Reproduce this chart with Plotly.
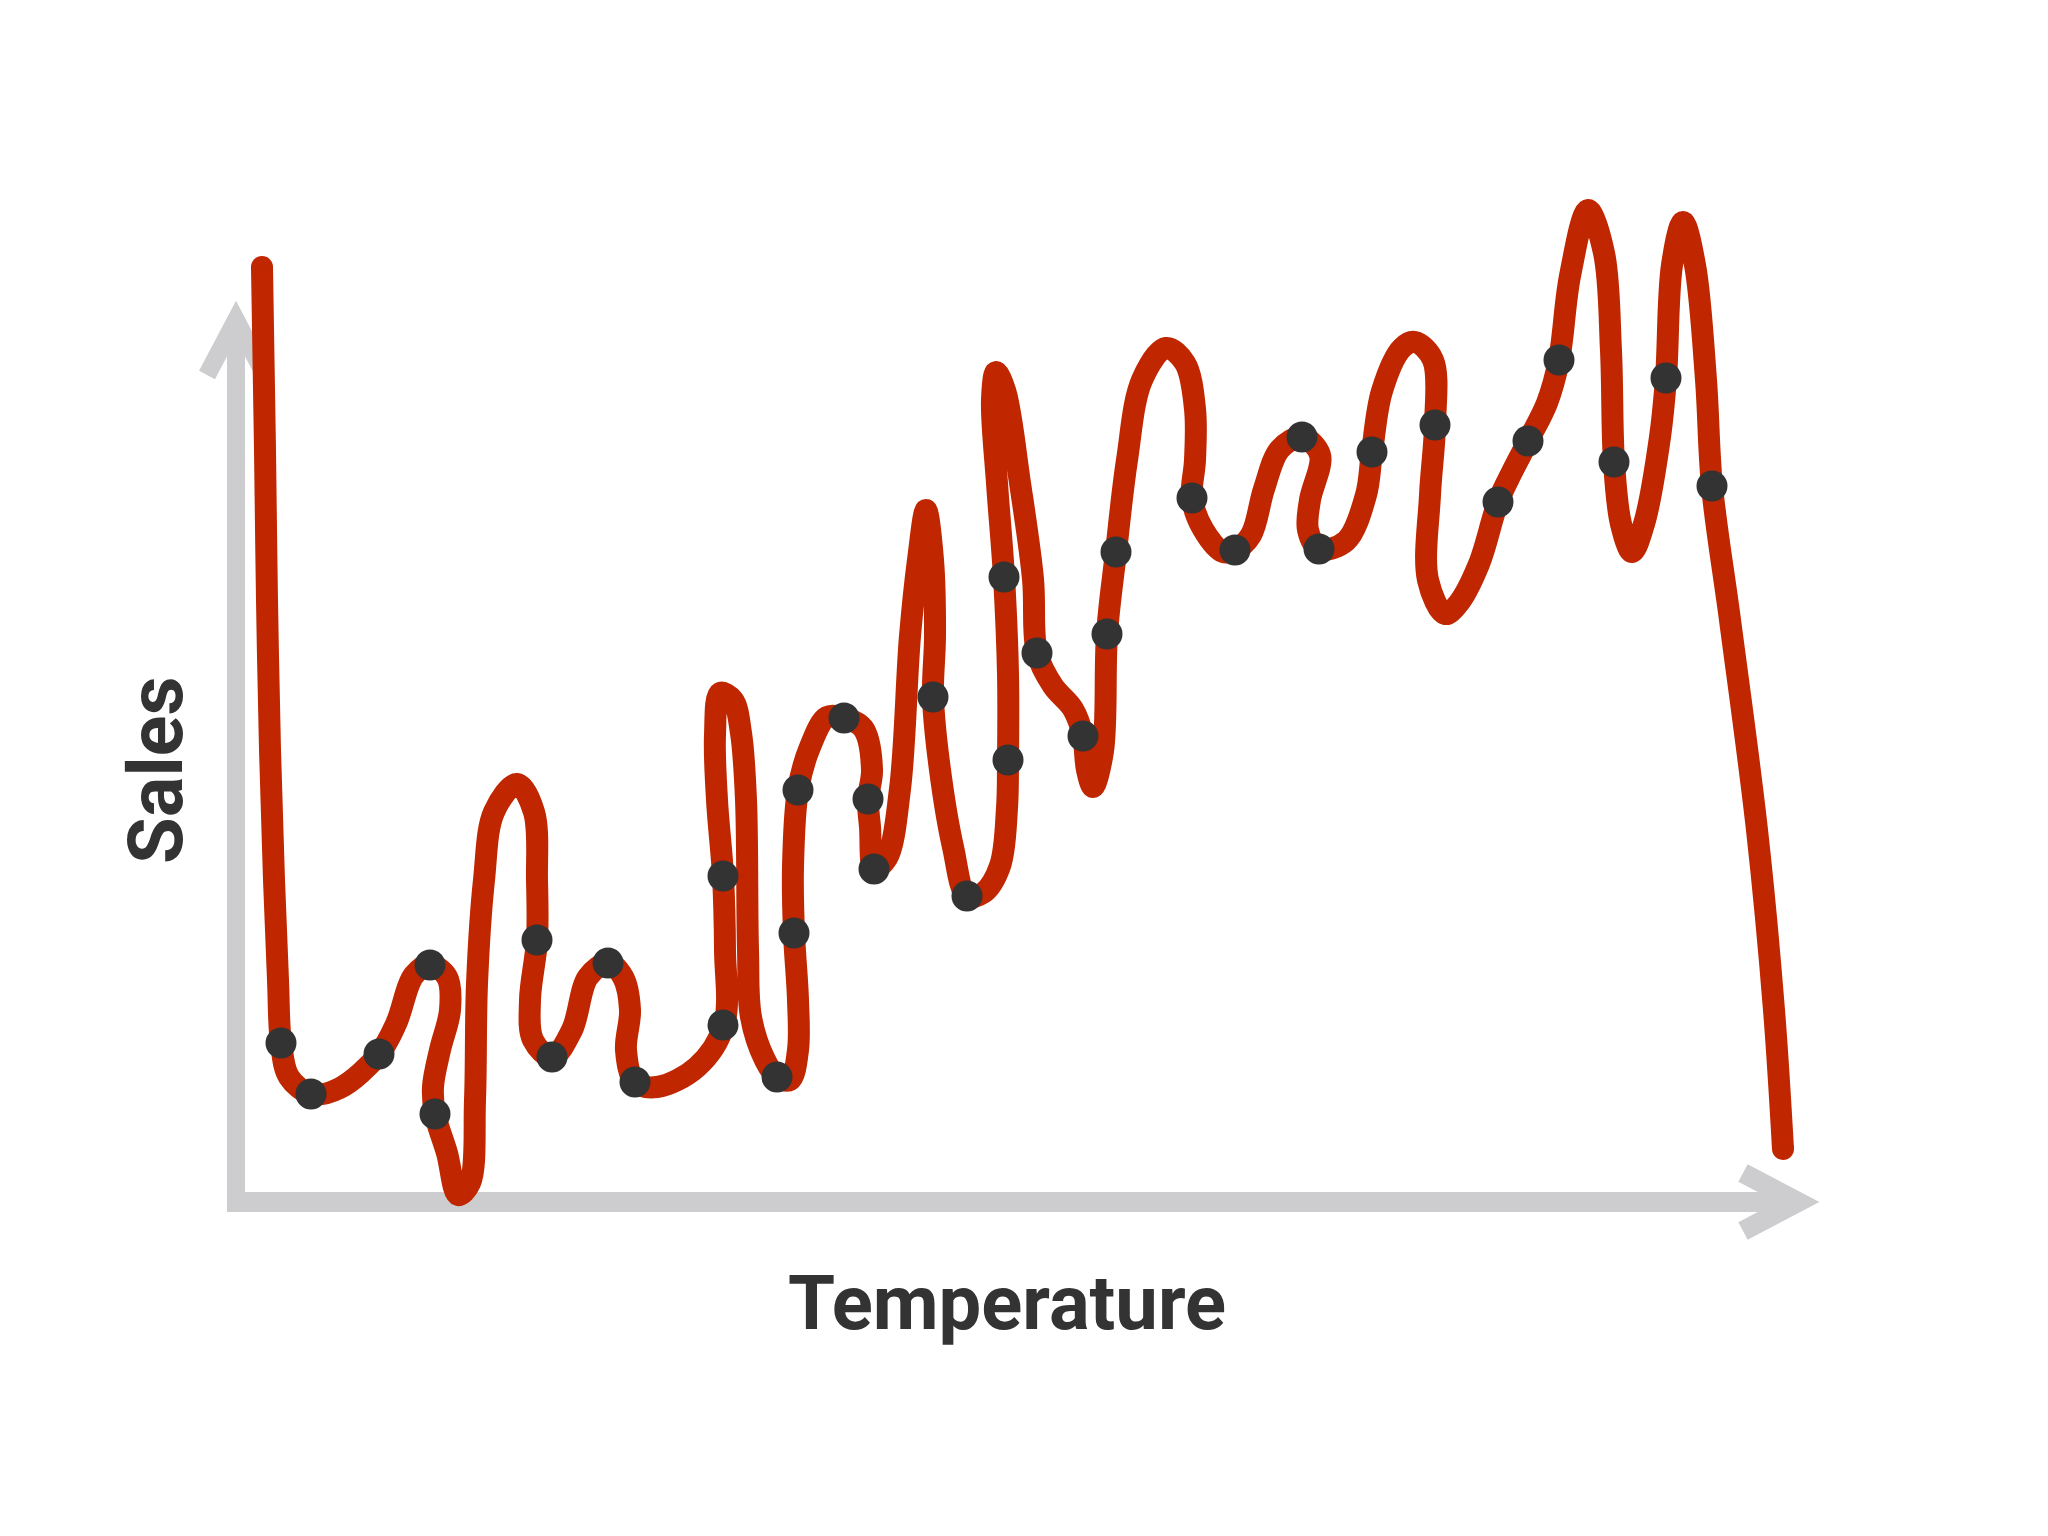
import plotly.graph_objects as go

# Observed data points (Temperature, Sales)
obs_temp = [4.5, 7.5, 14.3, 19.4, 19.9, 30.1, 31.6, 37.2, 39.9, 48.7, 48.7, 54.1,
            55.8, 56.2, 60.8, 63.2, 63.8, 69.7, 73.1, 77.2, 76.8, 80.1, 84.7, 87.1,
            88.0, 95.6, 99.9, 106.6, 108.3, 113.6, 119.9, 126.2, 129.2, 132.3,
            137.8, 143.0, 147.6]
obs_sales = [15.9, 10.8, 14.8, 23.7, 8.8, 26.2, 14.5, 23.9, 12.0, 17.7, 32.6, 12.5,
             26.9, 41.2, 48.4, 40.3, 33.3, 50.5, 30.6, 44.2, 62.5, 54.9, 46.6, 56.8,
             65.0, 70.4, 65.2, 76.5, 65.3, 75.0, 77.7, 70.0, 76.1, 84.2,
             74.0, 82.4, 71.6]

# Over-fitted model curve (ordered along the curve)
fit_temp = [2.6, 2.9, 3.1, 3.4, 3.8, 4.2, 4.5, 5.3, 7.5, 10.4, 14.3, 16.0, 17.8, 19.4,
            21.1, 21.4, 20.4, 19.7, 19.9, 21.1, 22.2, 23.4, 23.9, 24.1, 24.8, 25.8,
            28.1, 29.8, 30.1, 30.1, 29.4, 29.7, 31.6, 33.6, 35.2, 37.2, 38.7, 39.4,
            39.0, 39.9, 42.1, 46.1, 48.8, 48.9, 48.7, 48.1, 47.9, 48.4, 49.7, 50.5,
            51.0, 51.2, 51.5, 52.9, 54.1, 55.4, 56.2, 56.2, 55.8, 55.7, 56.2, 57.4,
            59.1, 60.8, 62.7, 63.6, 63.2, 63.4, 63.8, 65.1, 66.4, 67.4, 68.2, 69.0,
            69.7, 69.9, 69.7, 70.4, 71.7, 73.1, 74.7, 76.4, 77.1, 77.2, 77.2, 76.8,
            76.1, 75.6, 76.0, 76.9, 78.4, 79.7, 80.1, 81.7, 83.7, 84.7, 85.1, 85.7,
            86.7, 87.1, 88.0, 89.1, 90.6, 93.0, 94.9, 95.9, 95.9, 95.6, 96.7, 98.7,
            99.9, 101.5, 102.8, 104.4, 106.6, 108.4, 107.4, 107.2, 108.3, 111.0,
            113.0, 113.6, 114.6, 116.6, 117.9, 119.7, 119.9, 119.4, 119.2, 120.9,
            122.2, 124.3, 126.2, 127.6, 129.2, 131.1, 132.3, 133.4, 135.2, 136.8,
            137.5, 137.8, 138.5, 139.6, 140.8, 142.4, 143.0, 143.6, 144.7, 145.9,
            147.0, 147.6, 149.4, 152.1, 153.8, 154.7]
fit_sales = [93.5, 75.2, 60.2, 45.2, 32.2, 22.2, 15.9, 12.5, 10.8, 11.4, 14.8, 17.8,
             22.7, 23.7, 22.5, 19.2, 15.2, 11.5, 8.8, 4.9, 0.7, 1.9, 10.2, 21.8, 32.2,
             39.0, 41.8, 39.0, 32.2, 26.2, 20.2, 16.2, 14.5, 17.2, 22.5, 23.9, 22.5,
             19.2, 15.2, 12.0, 11.5, 13.5, 17.7, 25.2, 32.6, 40.2, 46.7, 50.9, 50.2,
             46.9, 40.2, 25.2, 18.5, 14.2, 12.5, 12.2, 15.2, 20.2, 26.9, 33.5, 41.2,
             45.5, 48.5, 48.4, 47.4, 43.2, 40.3, 37.5, 33.3, 34.4, 41.3, 56.6, 64.2,
             69.2, 64.2, 56.6, 50.5, 43.2, 35.5, 30.6, 30.9, 33.6, 39.4, 44.2, 52.8,
             62.5, 71.9, 80.2, 83.0, 81.2, 71.9, 62.3, 54.9, 51.6, 49.3, 46.6, 43.2,
             41.5, 45.1, 56.8, 65.0, 74.2, 82.2, 85.4, 83.9, 79.3, 74.2, 70.4, 67.3,
             65.0, 65.2, 66.7, 71.3, 75.3, 76.5, 74.7, 70.2, 67.2, 65.3, 66.1, 70.7,
             75.0, 81.1, 85.4, 86.0, 84.2, 77.7, 70.7, 62.2, 58.8, 59.8, 63.8, 70.0,
             73.0, 76.1, 79.9, 84.2, 92.6, 99.2, 94.9, 85.1, 74.0, 67.8, 65.0, 67.8,
             76.5, 82.4, 93.7, 98.0, 93.7, 82.2, 71.6, 58.2, 37.2, 19.2, 5.3]

x_label = "Temperature"
y_label = "Sales"

RED = "#c02600"
DOT = "#333333"
AXIS = "#cdcdcf"
FONT = "Roboto"

fig = go.Figure()

fig.add_trace(go.Scatter(
    x=fit_temp, y=fit_sales, mode="lines",
    line=dict(color=RED, width=22, shape="spline", smoothing=1.0),
    hoverinfo="skip", showlegend=False))
fig.add_trace(go.Scatter(
    x=[fit_temp[0], fit_temp[-1]], y=[fit_sales[0], fit_sales[-1]], mode="markers",
    marker=dict(color=RED, size=22, line=dict(width=0)),
    hoverinfo="skip", showlegend=False))
fig.add_trace(go.Scatter(
    x=obs_temp, y=obs_sales, mode="markers",
    marker=dict(color=DOT, size=31, line=dict(width=0)),
    showlegend=False))

# Axis arrows (drawn as shapes)
shapes = [
    dict(type="line", x0=0, x1=0, y0=-1.0, y1=88.2, line=dict(color=AXIS, width=18), layer="below"),
    dict(type="path", path="M -2.9 82.7 L 0 88.2 L 2.9 82.7", line=dict(color=AXIS, width=18), layer="below"),
    dict(type="line", x0=-0.9, x1=156.2, y0=0, y1=0, line=dict(color=AXIS, width=20), layer="below"),
    dict(type="path", path="M 150.7 2.9 L 156.2 0 L 150.7 -2.9", line=dict(color=AXIS, width=20), layer="below"),
]

annotations = [
    dict(text=f"<b>{x_label}</b>", x=77.1, y=-10.1, xref="x", yref="y", showarrow=False,
         font=dict(family=FONT, size=76, color="#333333"), xanchor="center", yanchor="middle"),
    dict(text=f"<b>{y_label}</b>", x=-8.0, y=43.2, xref="x", yref="y", showarrow=False, textangle=-90,
         font=dict(family=FONT, size=76, color="#333333"), xanchor="center", yanchor="middle"),
]

fig.update_layout(
    width=2048, height=1536,
    margin=dict(l=0, r=0, t=0, b=0),
    paper_bgcolor="white", plot_bgcolor="white",
    xaxis=dict(range=[-22.8, 182.0], visible=False, showgrid=False, zeroline=False),
    yaxis=dict(range=[-34.2, 119.4], visible=False, showgrid=False, zeroline=False),
    shapes=shapes, annotations=annotations,
)

fig.write_html("out.html")
